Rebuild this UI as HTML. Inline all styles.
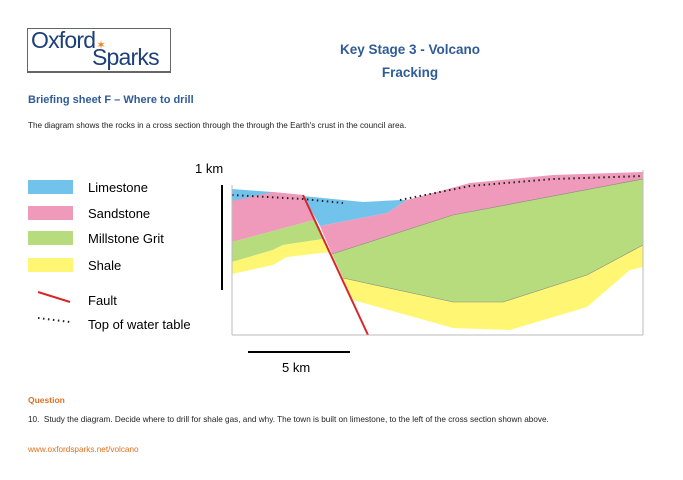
<!DOCTYPE html>
<html><head><style>
body{margin:0;width:683px;height:480px;background:#fff;position:relative;font-family:"Liberation Sans",sans-serif;overflow:hidden}
.t{position:absolute;white-space:nowrap}
</style></head><body>
<div style="position:absolute;left:27px;top:28px;width:142px;height:42px;border:1px solid #666;border-bottom-width:2px"></div>
<div class="t" style="left:31px;top:27px;font-size:23px;color:#1d3f7a;letter-spacing:-0.8px">Oxford</div>
<div class="t" style="left:92px;top:44px;font-size:23px;color:#1d3f7a;letter-spacing:-0.8px">Sparks</div>
<div class="t" style="left:96px;top:38px;font-size:12px;color:#f08020">✶</div>
<div class="t" style="left:300px;top:42px;width:220px;text-align:center;font-size:13.5px;font-weight:bold;color:#2f5b96">Key Stage 3 - Volcano</div>
<div class="t" style="left:300px;top:65px;width:220px;text-align:center;font-size:13.5px;font-weight:bold;color:#2f5b96">Fracking</div>
<div class="t" style="left:28px;top:94px;font-size:11px;font-weight:bold;color:#2f5b96">Briefing sheet F – Where to drill</div>
<div class="t" style="left:28px;top:121px;font-size:8.2px;color:#222">The diagram shows the rocks in a cross section through the through the Earth's crust in the council area.</div>
<div class="t" style="left:28px;top:395px;font-size:8.5px;font-weight:bold;color:#e07020">Question</div>
<div class="t" style="left:28px;top:415px;font-size:8.2px;color:#222">10.&nbsp; Study the diagram. Decide where to drill for shale gas, and why. The town is built on limestone, to the left of the cross section shown above.</div>
<div class="t" style="left:28px;top:445px;font-size:8.2px;color:#e07020">www.oxfordsparks.net/volcano</div>
<svg width="683" height="480" style="position:absolute;left:0;top:0" font-family="Liberation Sans, sans-serif">
<rect x="28" y="180" width="45" height="14" fill="#71c3ec"/>
<rect x="28" y="206" width="45" height="14" fill="#ef9aba"/>
<rect x="28" y="231" width="45" height="14" fill="#b7dc7d"/>
<rect x="28" y="258" width="45" height="14" fill="#fff774"/>
<text x="88" y="192" font-size="13">Limestone</text>
<text x="88" y="218" font-size="13">Sandstone</text>
<text x="88" y="243" font-size="13">Millstone Grit</text>
<text x="88" y="270" font-size="13">Shale</text>
<text x="88" y="305" font-size="13">Fault</text>
<text x="88" y="329" font-size="13">Top of water table</text>
<line x1="38" y1="292" x2="70" y2="302" stroke="#d8272a" stroke-width="2"/>
<line x1="38" y1="318" x2="70" y2="322" stroke="#222" stroke-width="2" stroke-dasharray="1.5 3.5"/>
<text x="195" y="173" font-size="13">1 km</text>
<line x1="222" y1="185" x2="222" y2="290" stroke="#000" stroke-width="2"/>
<line x1="248" y1="352" x2="350" y2="352" stroke="#000" stroke-width="2"/>
<text x="282" y="372" font-size="13">5 km</text>
<path d="M232,189 L272,192 L303,195 L232,201Z" fill="#71c3ec"/>
<path d="M232,201 L273,192 L303,195 L314,220 L232,242Z" fill="#ef9aba"/>
<path d="M232,242 L314,220 L323,239 L283,245 L273,250 L232,262Z" fill="#b7dc7d"/>
<path d="M232,262 L273,250 L283,245 L323,239 L330,252 L287,257 L273,265 L232,274Z" fill="#fff774"/>
<path d="M303,196 L363,202 L400,200 L407,200 L387,213 L320,226Z" fill="#71c3ec"/>
<path d="M320,226 L387,213 L407,200 L470,183 L553,175 L643,172 L643,179 L453,215 L332,254Z" fill="#ef9aba"/>
<path d="M332,254 L453,215 L643,179 L643,245 L587,275 L503,302 L453,302 L343,278Z" fill="#b7dc7d"/>
<path d="M343,278 L453,302 L503,302 L587,275 L643,245 L643,267 L630,270 L587,307 L510,330 L453,328 L353,300Z" fill="#fff774"/>
<path d="M332,254 L453,215 L643,179 M343,278 L453,302 L503,302 L587,275 L643,245" fill="none" stroke="#888" stroke-width="0.6"/>
<polyline points="232,195 303,199 343,203" fill="none" stroke="#222" stroke-width="2" stroke-dasharray="1.5 3.5"/>
<polyline points="400,200 470,186 553,179 643,176" fill="none" stroke="#222" stroke-width="2" stroke-dasharray="1.5 3.5"/>
<line x1="303" y1="195" x2="368" y2="335" stroke="#d8272a" stroke-width="2"/>
<line x1="232" y1="185" x2="232" y2="335" stroke="#bbb" stroke-width="1"/>
<line x1="643" y1="170" x2="643" y2="335" stroke="#bbb" stroke-width="1"/>
<line x1="232" y1="335" x2="643" y2="335" stroke="#bbb" stroke-width="1"/>
</svg>
</body></html>
